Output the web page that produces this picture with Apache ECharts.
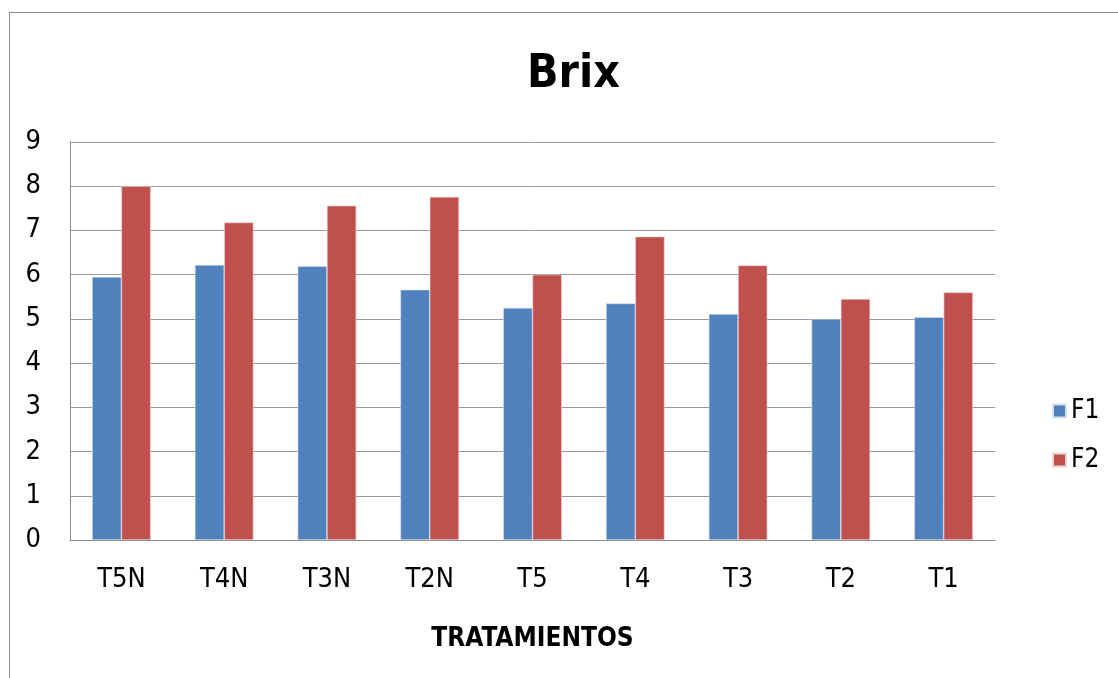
<!DOCTYPE html>
<html>
<head>
<meta charset="utf-8">
<script src="https://cdn.jsdelivr.net/npm/echarts@6/dist/echarts.min.js"></script>
<style>
  html, body { margin: 0; padding: 0; background: #fff; }
  #frame { position: absolute; left: 9px; top: 12px; width: 1120px; height: 680px; border: 1px solid #8c8c8c; box-sizing: border-box; }
  #chart { width: 1118px; height: 678px; }
</style>
</head>
<body>
<div id="frame"></div>
<div id="chart"></div>
<script>
// tratamientos
var categories = ['T5N', 'T4N', 'T3N', 'T2N', 'T5', 'T4', 'T3', 'T2', 'T1'];
var f1 = [5.95, 6.22, 6.19, 5.66, 5.25, 5.35, 5.11, 5.0, 5.04];
var f2 = [8.0, 7.18, 7.56, 7.76, 6.0, 6.86, 6.21, 5.45, 5.6];

var fontName = '"DejaVu Sans Condensed", "Liberation Sans Narrow", sans-serif';

var myChart = echarts.init(document.getElementById('chart'));
myChart.setOption({
  animation: false,
  textStyle: { fontFamily: fontName },
  title: {
    text: 'Brix',
    left: 522,
    top: 47,
    textStyle: { fontSize: 46, fontWeight: 'bold', color: '#000', fontFamily: fontName }
  },
  legend: {
    orient: 'vertical',
    left: 1047,
    top: 393,
    itemWidth: 13,
    itemHeight: 13,
    itemGap: 23,
    icon: 'rect',
    textStyle: { fontSize: 26, color: '#000' },
    data: ['F1', 'F2']
  },
  grid: { left: 70, right: 123, top: 142, bottom: 138, containLabel: false },
  xAxis: {
    type: 'category',
    data: categories,
    name: 'TRATAMIENTOS',
    nameLocation: 'middle',
    nameGap: 86,
    nameTextStyle: { fontSize: 26, fontWeight: 'bold', color: '#000' },
    axisLine: { lineStyle: { color: '#8c8c8c', width: 1 } },
    axisTick: { show: false },
    axisLabel: { fontSize: 27, color: '#000', margin: 26 }
  },
  yAxis: {
    type: 'value',
    min: 0,
    max: 9,
    interval: 1,
    axisLine: { show: true, lineStyle: { color: '#8c8c8c' } },
    axisTick: { show: false },
    axisLabel: { fontSize: 27, color: '#000', margin: 29 },
    splitLine: { lineStyle: { color: '#999999', width: 1 } }
  },
  series: [
    {
      name: 'F1',
      type: 'bar',
      data: f1,
      barGap: '0%',
      barCategoryGap: '43%',
      itemStyle: { color: '#4F81BD', borderColor: '#d6e0ee', borderWidth: 0.6 }
    },
    {
      name: 'F2',
      type: 'bar',
      data: f2,
      itemStyle: { color: '#C0504D', borderColor: '#f0d4d3', borderWidth: 0.6 }
    }
  ]
});
</script>
</body>
</html>
